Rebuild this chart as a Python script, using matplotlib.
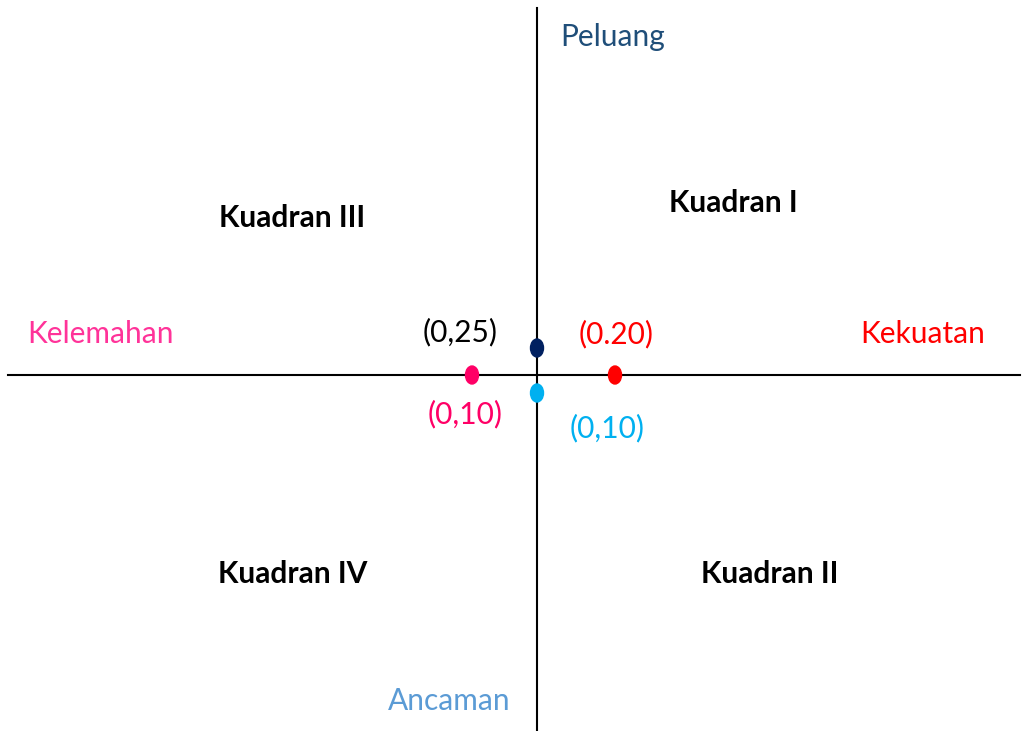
import matplotlib.pyplot as plt
from matplotlib.patches import Ellipse

plt.rcParams['font.family'] = ['Lato', 'DejaVu Sans']

# titik-titik (posisi relatif terhadap pusat sumbu)
point_x = [0.0, -0.65, 0.78, 0.0]
point_y = [0.27, 0.0, 0.0, -0.18]
point_colors = ['#002060', '#FF0066', '#FF0000', '#00B0F0']

# label titik
label_text = ['(0,25)', '(0,10)', '(0.20)', '(0,10)']
label_x = [-0.77, -0.72, 0.79, 0.70]
label_y = [0.43, -0.39, 0.41, -0.53]
label_colors = ['#000000', '#FF0066', '#FF0000', '#00B0F0']

quadrants = ['Kuadran I', 'Kuadran II', 'Kuadran III', 'Kuadran IV']
quad_x = [1.96, 2.33, -2.45, -2.44]
quad_y = [1.72, -1.99, 1.57, -1.99]

axis_names = ['Peluang', 'Ancaman', 'Kelemahan', 'Kekuatan']
axis_name_x = [0.76, -0.88, -4.36, 3.86]
axis_name_y = [3.38, -3.26, 0.41, 0.41]
axis_name_colors = ['#1F4E79', '#5B9BD5', '#FF3399', '#FF0000']

fig = plt.figure(figsize=(10.22, 7.31), dpi=100)
ax = fig.add_axes([0, 0, 1, 1])
ax.set_xlim(-5.37, 4.85)
ax.set_ylim(-3.56, 3.75)
ax.axis('off')

ax.plot([-5.29, 4.83], [0, 0], color='black', lw=1.5)
ax.plot([0, 0], [-3.56, 3.67], color='black', lw=1.5)

for x, y, c in zip(point_x, point_y, point_colors):
    ax.add_patch(Ellipse((x, y), 0.13, 0.18, color=c, zorder=3))

for t, x, y, c in zip(label_text, label_x, label_y, label_colors):
    ax.text(x, y, t, color=c, fontsize=21.5, ha='center', va='center')

for t, x, y in zip(quadrants, quad_x, quad_y):
    ax.text(x, y, t, fontsize=21.5, fontweight='bold', ha='center', va='center')

for t, x, y, c in zip(axis_names, axis_name_x, axis_name_y, axis_name_colors):
    ax.text(x, y, t, color=c, fontsize=21.5, ha='center', va='center')

fig.savefig('out.png', dpi=100)
